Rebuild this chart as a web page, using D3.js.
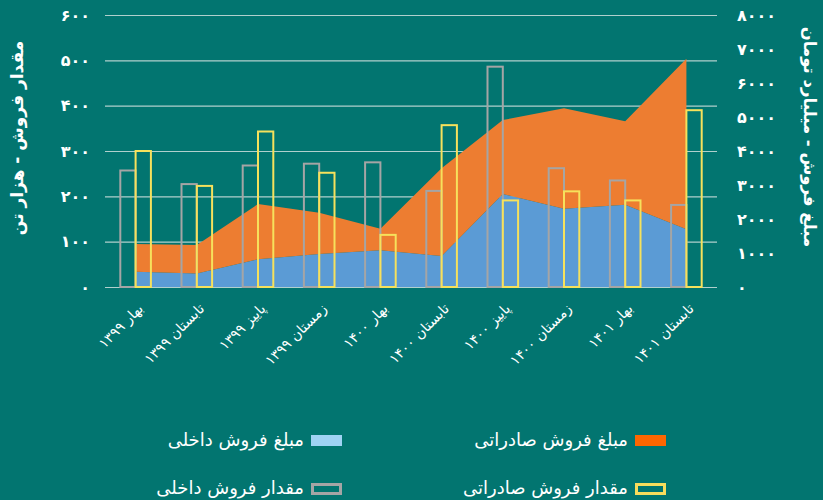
<!DOCTYPE html>
<html>
<head>
<meta charset="utf-8">
<script src="https://cdn.jsdelivr.net/npm/d3@7"></script>
<style>
  body { margin: 0; background: #027570; }
  svg text { font-family: "DejaVu Sans", sans-serif; fill: #fff; }
</style>
</head>
<body>
<script>
// seasons (x categories)
var seasons = ["بهار ۱۳۹۹", "تابستان ۱۳۹۹", "پاییز ۱۳۹۹", "زمستان ۱۳۹۹", "بهار ۱۴۰۰",
    "تابستان ۱۴۰۰", "پاییز ۱۴۰۰", "زمستان ۱۴۰۰", "بهار ۱۴۰۱", "تابستان ۱۴۰۱"];

// sales amount - billion toman (right axis, stacked areas)
var domesticAmount = [450, 400, 815, 970, 1080, 910, 2735, 2300, 2420, 1700];
var exportAmount = [815, 835, 1625, 1215, 635, 2580, 2175, 2955, 2455, 5010];

// sales quantity - thousand tonnes (left axis, outline bars)
var domesticQty = [257, 227, 268, 272, 275, 212, 486, 262, 235, 181];
var exportQty = [300, 223, 343, 252, 115, 357, 191, 211, 191, 390];

var qtyTicks = [0, 100, 200, 300, 400, 500, 600];
var amountTicks = [0, 1000, 2000, 3000, 4000, 5000, 6000, 7000, 8000];

var fa = function (n) {
    return String(n).replace(/\d/g, function (d) { return "۰۱۲۳۴۵۶۷۸۹"[d]; });
};

function drawChart() {
    var width = 823, height = 500,
        pl = 105, pr = 717, pt = 15, pb = 287;

    var svg = d3.select("body").append("svg")
        .attr("width", width)
        .attr("height", height);

    var x = d3.scaleBand().domain(seasons).range([pl, pr]);
    var yQty = d3.scaleLinear().domain([0, 600]).range([pb, pt]);
    var yAmt = d3.scaleLinear().domain([0, 8000]).range([pb, pt]);
    var center = function (s) { return x(s) + x.bandwidth() / 2; };

    // left axis + gridlines
    var gy = svg.append("g")
        .attr("transform", "translate(" + pr + ",0)")
        .call(d3.axisLeft(yQty).tickValues(qtyTicks).tickFormat(fa)
            .tickSize(pr - pl).tickPadding(15));
    gy.select(".domain").remove();
    gy.selectAll("line").attr("stroke", "#b0d0cd").attr("stroke-width", 1.2);
    gy.selectAll("text").style("font-size", "16px").style("font-weight", "bold");

    // right axis
    var gr = svg.append("g")
        .attr("transform", "translate(" + pr + ",0)")
        .call(d3.axisRight(yAmt).tickValues(amountTicks).tickFormat(fa)
            .tickSize(0).tickPadding(20));
    gr.select(".domain").remove();
    gr.selectAll("text").style("font-size", "16px").style("font-weight", "bold");

    // stacked areas
    var rows = seasons.map(function (s, i) {
        return { season: s, domestic: domesticAmount[i], export: exportAmount[i] };
    });
    var stack = d3.stack().keys(["domestic", "export"])(rows);
    var area = d3.area()
        .x(function (d) { return center(d.data.season); })
        .y0(function (d) { return yAmt(d[0]); })
        .y1(function (d) { return yAmt(d[1]); });
    var areaColors = { domestic: "#5b9bd5", export: "#ed7d31" };
    svg.append("g").selectAll("path")
        .data(stack)
        .join("path")
        .attr("fill", function (d) { return areaColors[d.key]; })
        .attr("d", area);

    // outline bars
    var bw = x.step() * 0.25;
    svg.append("g").selectAll("rect")
        .data(seasons)
        .join("rect")
        .attr("x", function (s) { return center(s) - bw; })
        .attr("y", function (s, i) { return yQty(domesticQty[i]); })
        .attr("width", bw)
        .attr("height", function (s, i) { return pb - yQty(domesticQty[i]); })
        .attr("fill", "none")
        .attr("stroke", "#a5a5a5")
        .attr("stroke-width", 2);
    svg.append("g").selectAll("rect")
        .data(seasons)
        .join("rect")
        .attr("x", function (s) { return center(s); })
        .attr("y", function (s, i) { return yQty(exportQty[i]); })
        .attr("width", bw)
        .attr("height", function (s, i) { return pb - yQty(exportQty[i]); })
        .attr("fill", "none")
        .attr("stroke", "#f6e15c")
        .attr("stroke-width", 2);

    // x labels
    svg.append("g").selectAll("text")
        .data(seasons)
        .join("text")
        .attr("transform", function (s) { return "translate(" + (center(s) + 5) + ",306) rotate(-45)"; })
        .attr("text-anchor", "end")
        .attr("dy", "0.35em")
        .style("font-size", "14px")
        .text(function (s) { return s; });

    // axis titles
    svg.append("text")
        .attr("transform", "translate(17,138) rotate(-90)")
        .attr("text-anchor", "middle")
        .attr("dy", "0.35em")
        .style("font-size", "17px")
        .style("font-weight", "bold")
        .text("مقدار فروش - هزار تن");
    svg.append("text")
        .attr("transform", "translate(810,137) rotate(90)")
        .attr("text-anchor", "middle")
        .attr("dy", "0.35em")
        .style("font-size", "16.5px")
        .style("font-weight", "bold")
        .text("مبلغ فروش - میلیارد تومان");

    // legend
    var legend = [
        { label: "مبلغ فروش صادراتی", color: "#ff6600", outline: false, x: 635, y: 435 },
        { label: "مبلغ فروش داخلی", color: "#9fd3f3", outline: false, x: 311, y: 435 },
        { label: "مقدار فروش صادراتی", color: "#f8dc5c", outline: true, x: 635, y: 483 },
        { label: "مقدار فروش داخلی", color: "#a5a5a5", outline: true, x: 311, y: 483 }
    ];
    var lg = svg.append("g").selectAll("g")
        .data(legend)
        .join("g")
        .attr("transform", function (d) { return "translate(" + d.x + "," + d.y + ")"; });
    lg.append("rect")
        .attr("x", function (d) { return d.outline ? 1.5 : 0; })
        .attr("y", function (d) { return d.outline ? 1.5 : 0; })
        .attr("width", function (d) { return d.outline ? 28 : 31; })
        .attr("height", function (d) { return d.outline ? 9 : 11; })
        .attr("fill", function (d) { return d.outline ? "none" : d.color; })
        .attr("stroke", function (d) { return d.outline ? d.color : "none"; })
        .attr("stroke-width", 3);
    lg.append("text")
        .attr("x", -7)
        .attr("y", 5)
        .attr("dy", "0.35em")
        .attr("text-anchor", "end")
        .style("font-size", "18px")
        .text(function (d) { return d.label; });
}

drawChart();
</script>
</body>
</html>
